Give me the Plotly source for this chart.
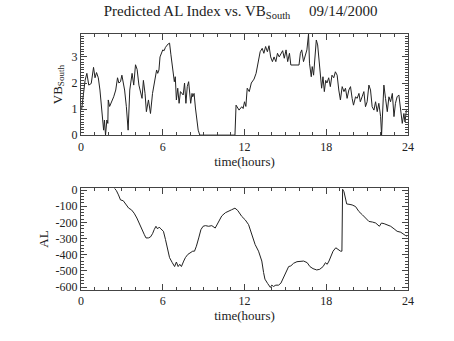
import plotly.graph_objects as go

# VB_South (top panel)
vb_hours = [0.05, 0.13, 0.3, 0.43, 0.57, 0.75, 0.92, 1.03, 1.14, 1.27, 1.39, 1.66, 1.72, 1.8, 1.9, 1.97, 2.0, 2.1, 2.4, 2.55, 2.68, 2.78, 2.9, 3.0, 3.2, 3.33, 3.46, 3.58, 3.75, 3.87, 4.0, 4.12, 4.25, 4.48, 4.58, 4.7, 4.8, 4.95, 5.1, 5.25, 5.4, 5.55, 5.63, 5.72, 5.8, 6.0, 6.1, 6.2, 6.4, 6.5, 6.6, 6.75, 6.85, 6.92, 7.0, 7.1, 7.2, 7.3, 7.5, 7.6, 7.7, 7.8, 7.9, 8.05, 8.15, 8.2, 8.3, 8.4, 8.5, 8.6, 8.72, 11.3, 11.38, 11.5, 11.6, 11.8, 11.9, 12.0, 12.1, 12.2, 12.35, 12.5, 12.6, 12.7, 12.85, 13.0, 13.15, 13.3, 13.42, 13.55, 13.68, 13.8, 13.92, 14.05, 14.17, 14.3, 14.42, 14.55, 14.67, 14.8, 14.92, 15.05, 15.17, 15.3, 15.4, 16.0, 16.1, 16.2, 16.33, 16.45, 16.58, 16.7, 16.77, 16.9, 16.97, 17.07, 17.17, 17.27, 17.37, 17.5, 17.57, 17.66, 17.76, 17.86, 17.96, 18.05, 18.18, 18.3, 18.42, 18.55, 18.67, 18.8, 18.92, 19.04, 19.17, 19.3, 19.41, 19.53, 19.66, 19.78, 19.9, 20.0, 20.15, 20.27, 20.4, 20.5, 20.63, 20.76, 20.88, 21.0, 21.13, 21.25, 21.37, 21.5, 21.62, 21.74, 21.86, 21.99, 22.06, 22.13, 22.23, 22.35, 22.48, 22.6, 22.72, 22.85, 22.97, 23.08, 23.2, 23.33, 23.46, 23.58, 23.7, 23.78, 23.88]
vb_values = [1.0, 1.4, 2.1, 2.37, 1.92, 1.98, 2.6, 2.2, 2.4, 2.2, 1.73, 0.19, 0.58, 0.0, 0.58, 0.45, 1.35, 1.1, 1.47, 1.73, 2.2, 2.0, 2.05, 2.3, 1.73, 1.09, 0.19, 1.73, 2.37, 1.92, 2.7, 2.52, 1.92, 1.41, 2.1, 1.6, 0.9, 1.35, 0.83, 1.6, 2.0, 2.5, 2.37, 2.5, 3.0, 3.27, 3.24, 3.37, 3.5, 3.53, 3.08, 2.37, 2.05, 2.24, 1.35, 1.8, 1.22, 1.67, 1.54, 2.0, 1.22, 1.86, 2.05, 1.22, 1.6, 1.47, 1.6, 1.04, 0.58, 0.19, 0.0, 0.0, 1.15, 1.02, 0.96, 1.09, 1.02, 1.28, 1.1, 1.8, 1.67, 2.0, 2.1, 2.15, 2.37, 2.76, 3.2, 3.33, 3.14, 3.4, 3.2, 3.43, 3.0, 2.82, 3.0, 2.82, 3.14, 3.0, 3.1, 3.24, 2.95, 3.27, 2.82, 3.14, 2.69, 2.69, 3.14, 3.27, 2.82, 3.0, 3.27, 3.88, 2.76, 2.24, 2.63, 2.3, 2.88, 3.65, 3.46, 2.82, 2.37, 1.8, 2.24, 1.67, 2.1, 2.0, 2.2, 1.86, 2.3, 2.2, 2.43, 2.3, 1.73, 1.35, 1.86, 1.67, 1.8, 1.41, 1.73, 1.86, 1.41, 1.15, 1.47, 1.41, 1.6, 1.28, 1.47, 1.67, 1.09, 1.28, 1.92, 1.73, 1.09, 0.96, 1.28, 0.9, 1.22, 0.71, 0.0, 0.83, 1.92, 1.41, 0.9, 1.47, 1.28, 1.6, 0.71, 1.22, 1.47, 1.54, 0.96, 0.45, 0.83, 0.5, 0.96]

# AL index (bottom panel)
al_hours = [2.47, 2.6, 2.75, 2.9, 3.1, 3.3, 3.5, 3.7, 3.9, 4.1, 4.3, 4.46, 4.65, 4.77, 4.95, 5.1, 5.25, 5.37, 5.5, 5.62, 5.74, 5.86, 6.05, 6.2, 6.38, 6.5, 6.7, 6.87, 7.0, 7.13, 7.25, 7.37, 7.54, 7.66, 7.84, 8.03, 8.2, 8.33, 8.47, 8.64, 8.8, 8.96, 9.13, 9.37, 9.6, 9.85, 10.1, 10.33, 10.6, 10.8, 11.05, 11.3, 11.5, 11.8, 12.05, 12.3, 12.53, 12.78, 13.03, 13.27, 13.4, 13.5, 13.7, 13.9, 14.0, 14.13, 14.3, 14.5, 14.67, 14.87, 15.06, 15.24, 15.4, 15.6, 15.85, 16.1, 16.34, 16.6, 16.8, 17.03, 17.3, 17.52, 17.77, 17.94, 18.07, 18.2, 18.32, 18.5, 18.7, 18.87, 19.05, 19.15, 19.2, 19.3, 19.4, 19.5, 19.67, 19.9, 20.15, 20.4, 20.65, 20.9, 21.13, 21.4, 21.63, 21.9, 22.05, 22.25, 22.5, 22.73, 22.98, 23.2, 23.47, 23.7, 23.9]
al_values = [10, -4, -30, -61, -66, -92, -112, -122, -143, -173, -214, -245, -276, -296, -296, -290, -270, -245, -224, -240, -229, -240, -255, -306, -367, -418, -449, -473, -445, -473, -459, -473, -439, -418, -398, -390, -378, -378, -347, -296, -245, -224, -220, -224, -220, -235, -200, -160, -140, -130, -122, -112, -126, -163, -184, -214, -276, -337, -378, -439, -510, -551, -578, -602, -588, -596, -588, -588, -576, -541, -500, -473, -469, -453, -443, -439, -439, -449, -473, -486, -494, -490, -473, -449, -459, -439, -418, -378, -357, -367, -378, -378, 5, -10, -51, -86, -88, -92, -102, -133, -153, -173, -194, -198, -204, -224, -204, -208, -214, -224, -240, -255, -261, -276, -286]

x_ticks = [0, 6, 12, 18, 24]
vb_ticks = [0, 1, 2, 3]
al_ticks = [0, -100, -200, -300, -400, -500, -600]
al_tick_text = ["0", "-100", "-200", "-300", "-400", "-500", "-600"]

FONT = "Liberation Serif"
INK = "#444444"
LINE = "#222222"

fig = go.Figure()
fig.add_trace(go.Scatter(x=vb_hours, y=vb_values, mode="lines",
                         line=dict(color=LINE, width=1), xaxis="x", yaxis="y"))
fig.add_trace(go.Scatter(x=al_hours, y=al_values, mode="lines",
                         line=dict(color=LINE, width=1), xaxis="x2", yaxis="y2"))

common_x = dict(range=[0, 24], tickvals=x_ticks, ticks="inside", ticklen=6,
                tickcolor=INK, linecolor=INK, linewidth=1, mirror="allticks",
                showline=True, showgrid=False, zeroline=False,
                tickfont=dict(family=FONT, size=12, color="#222222"),
                minor=dict(dtick=1, ticks="inside", ticklen=3, tickcolor=INK, showgrid=False),
                title=dict(text="time(hours)", font=dict(family=FONT, size=13, color="#222222"), standoff=0))
common_y = dict(ticks="inside", ticklen=6, tickcolor=INK, linecolor=INK, linewidth=1,
                mirror="allticks", showline=True, showgrid=False, zeroline=False,
                tickfont=dict(family=FONT, size=12, color="#222222"))

fig.update_layout(
    width=454, height=341,
    margin=dict(l=81, r=46, t=34, b=51),
    paper_bgcolor="white", plot_bgcolor="white",
    showlegend=False,
    title=dict(text="Predicted AL Index vs. VB<sub>South</sub>     09/14/2000",
               x=0.53, xanchor="center", y=0.985, yanchor="top",
               font=dict(family=FONT, size=15, color="#222222")),
    xaxis=dict(domain=[0, 1], anchor="y", **common_x),
    yaxis=dict(domain=[0.605, 1.0], anchor="x", range=[0, 3.88], tickvals=vb_ticks,
               minor=dict(dtick=0.1, ticks="inside", ticklen=3, tickcolor=INK, showgrid=False),
               title=dict(text="VB<sub>South</sub>", font=dict(family=FONT, size=13, color="#222222"), standoff=6),
               **common_y),
    xaxis2=dict(domain=[0, 1], anchor="y2", **common_x),
    yaxis2=dict(domain=[0.0, 0.398], anchor="x2", range=[-618, 12], tickvals=al_ticks,
                ticktext=al_tick_text,
                minor=dict(dtick=20, ticks="inside", ticklen=3, tickcolor=INK, showgrid=False),
                title=dict(text="AL", font=dict(family=FONT, size=13, color="#222222"), standoff=4),
                **common_y),
)

fig.write_html("out.html")
